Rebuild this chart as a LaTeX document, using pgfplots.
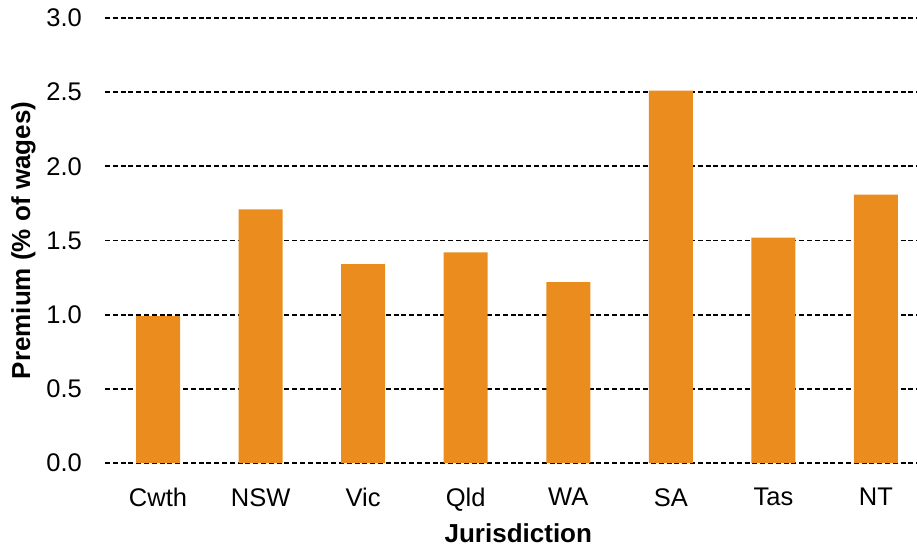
\documentclass[border=0pt]{standalone}
\usepackage{pgfplots}
\pgfplotsset{compat=1.18}
\usepackage{fontspec}
\setmainfont{Liberation Sans}
\definecolor{barorange}{RGB}{234,140,30}
\begin{document}
\fontsize{25.5}{30}\selectfont
\begin{tikzpicture}
\begin{axis}[
  scale only axis, width=812pt, height=445pt,
  xmin=-0.517, xmax=7.4, ymin=0, ymax=3,
  ytick={0,0.5,1,1.5,2,2.5,3},
  xtick={0,1,2,3,4,5,6,7},
  xticklabels={Cwth,NSW,Vic,Qld,WA,SA,Tas,NT},
  axis line style={draw=none}, major tick length=0pt,
  ymajorgrids,
  grid style={black, dash pattern=on 5pt off 2.8pt, line width=1.7pt},
  /pgf/number format/.cd, fixed, fixed zerofill, precision=1, assume math mode=true,
  /pgfplots/.cd,
  tick label style={font=\fontsize{25.5}{30}\selectfont},
  yticklabel style={xshift=-14.5pt},
  xticklabel style={yshift=-16.5pt},
  xlabel={Jurisdiction}, ylabel={Premium (\% of wages)},
  label style={font=\bfseries\fontsize{26}{30}\selectfont},
  xlabel style={at={(axis description cs:0.509,-0.158)}, anchor=center, inner sep=0pt},
  ylabel style={at={(axis description cs:-0.1004,0.5)}, anchor=center, rotate=0},
]
\addplot[ybar, bar width=44pt, fill=barorange, draw=none] coordinates {
  (0,0.99) (1,1.71) (2,1.34) (3,1.42) (4,1.22) (5,2.51) (6,1.52) (7,1.81)};
\end{axis}
\pgfresetboundingbox
\path (current axis.south west) ++(-105pt,-85pt) rectangle ([yshift=18pt]current axis.north east);
\end{tikzpicture}
\end{document}
